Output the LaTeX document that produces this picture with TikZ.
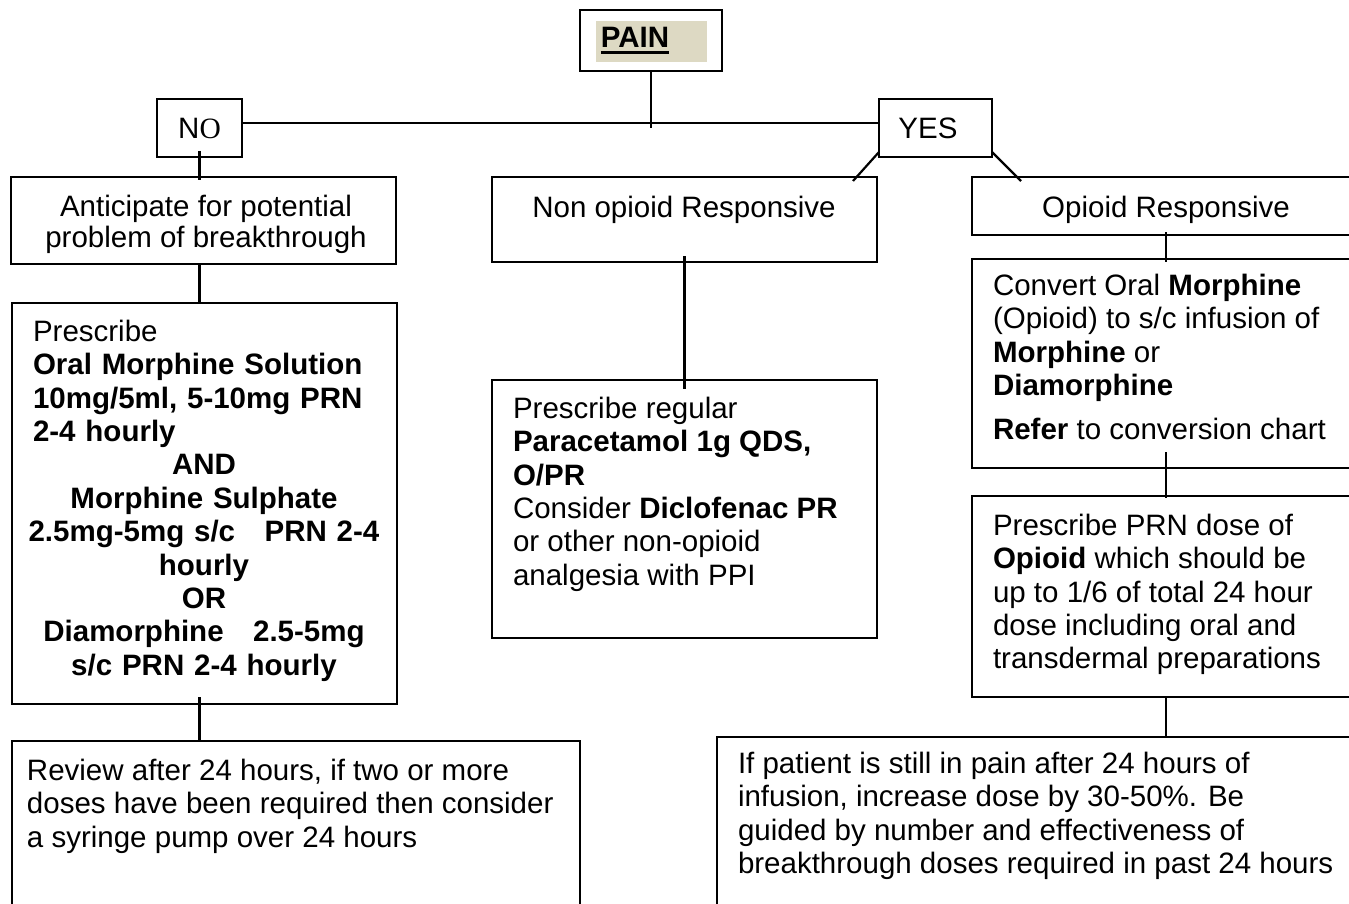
\documentclass[tikz,border=0pt]{standalone}
\usepackage{fontspec}
\setmainfont{Liberation Sans}
\newfontfamily\serifO{Liberation Serif}
\definecolor{painbg}{HTML}{DDD9C3}
\begin{document}
\begin{tikzpicture}[x=1pt,y=-1pt,
  box/.style={draw, line width=2.2pt, anchor=north west, inner sep=0pt, outer sep=0pt},
  txt/.style={inner sep=0pt, outer sep=0pt, font=\fontsize{29.5}{33.4}\selectfont},
  link/.style={line width=2.2pt}]
\useasboundingbox (0,0) rectangle (1349,904);
\clip (0,0) rectangle (1349,904);
\fill[white] (0,0) rectangle (1349,904);

% top
\node[box, minimum width=142pt, minimum height=61pt] (pain) at (580,10) {};
\fill[painbg] (596,21) rectangle (707,62);
\node[txt, font=\fontsize{29.5}{33.4}\selectfont\bfseries] (paintxt) at (635,37) {PAIN};
\draw[line width=3.2pt] ([yshift=-5.5pt]paintxt.base west) -- ([yshift=-5.5pt]paintxt.base east);

\node[box, minimum width=85pt, minimum height=58pt] (no) at (157,99) {};
\node[txt] (notxt) at (no.center) {N{\serifO O}};
\node[box, minimum width=113pt, minimum height=58pt] (yes) at (879,99) {};
\node[txt] (yestxt) at (928,128) {YES};

% second row
\node[box, minimum width=385pt, minimum height=87pt] (antic) at (11,177) {};
\node[txt, anchor=north, align=center, font=\fontsize{29.5}{31}\selectfont] (antictxt) at (206,195) {Anticipate for potential\\problem of breakthrough};
\node[box, minimum width=385pt, minimum height=85pt] (nonop) at (492,177) {};
\node[txt, anchor=north] (nonoptxt) at (684,196) {Non opioid Responsive};
\node[box, minimum width=400pt, minimum height=58pt] (opresp) at (972,177) {};
\node[txt, anchor=north] (oprespttxt) at (1166,196) {Opioid Responsive};

% left prescription
\node[box, minimum width=385pt, minimum height=401pt] (presc1) at (12,303) {};
\node[txt, anchor=north, text width=360pt, align=center] (presc1txt) at (204,320) {%
\makebox[360pt][l]{\hspace{9pt}Prescribe}\\
\makebox[360pt][l]{\hspace{9pt}\textbf{Oral Morphine Solution}}\\
\makebox[360pt][l]{\hspace{9pt}\textbf{10mg/5ml, 5-10mg PRN}}\\
\makebox[360pt][l]{\hspace{9pt}\textbf{2-4 hourly}}\\
\textbf{AND}\\
\textbf{Morphine Sulphate}\\
\textbf{2.5mg-5mg s/c\ \ \ PRN 2-4}\\
\textbf{hourly}\\
\textbf{OR}\\
\textbf{Diamorphine\ \ \ 2.5-5mg}\\
\textbf{s/c PRN 2-4 hourly}};

% middle prescription
\node[box, minimum width=385pt, minimum height=258pt] (mid) at (492,380) {};
\node[txt, anchor=north west, align=left] (midtxt) at (513,397) {Prescribe regular\\
\textbf{Paracetamol 1g QDS,}\\
\textbf{O/PR}\\
Consider \textbf{Diclofenac PR}\\
or other non-opioid\\
analgesia with PPI};

% right column
\node[box, minimum width=400pt, minimum height=209pt] (conv) at (972,259) {};
\node[txt, anchor=north west, align=left] (convtxt) at (993,274) {Convert Oral \textbf{Morphine}\\
(Opioid) to s/c infusion of\\
\textbf{Morphine} or\\
\textbf{Diamorphine}\\[11pt]
\textbf{Refer} to conversion chart};
\node[box, minimum width=400pt, minimum height=201pt] (prn) at (972,496) {};
\node[txt, anchor=north west, align=left] (prntxt) at (993,514) {Prescribe PRN dose of\\
\textbf{Opioid} which should be\\
up to 1/6 of total 24 hour\\
dose including oral and\\
transdermal preparations};

% bottom
\node[box, minimum width=568pt, minimum height=200pt] (botleft) at (12,741) {};
\node[txt, anchor=north west, align=left] (botlefttxt) at (27,759) {Review after 24 hours, if two or more\\
doses have been required then consider\\
a syringe pump over 24 hours};
\node[box, minimum width=660pt, minimum height=200pt] (botright) at (717,737) {};
\node[txt, anchor=north west, align=left] (botrighttxt) at (738,752) {If patient is still in pain after 24 hours of\\
infusion, increase dose by 30-50\%. Be\\
guided by number and effectiveness of\\
breakthrough doses required in past 24 hours};

% connectors
\coordinate (hmid) at (651,128);
\draw[link] (pain.south) -- (hmid);
\draw[link] ([yshift=5pt]no.east) -- ([yshift=5pt]yes.west);
\draw[link] ([yshift=6pt]no.south) -- ([yshift=-3pt]no.south |- antic.north);
\draw[link] (no.south |- antic.south) -- (no.south |- presc1.north);
\draw[link] ([yshift=7pt]no.south |- presc1.south) -- (no.south |- botleft.north);

\coordinate (yl) at (853,181);
\coordinate (yr) at (1021,181);
\draw[link] ([yshift=5pt]yes.south west) -- (yl);
\draw[link] ([yshift=5pt]yes.south east) -- (yr);

\draw[link] ([yshift=6pt]nonop.south) -- ([yshift=-9pt]mid.north);

\coordinate (rc) at (1166,0);
\draw[link] ([yshift=3pt]rc |- opresp.south) -- ([yshift=-3pt]rc |- conv.north);
\draw[link] ([yshift=16pt]rc |- conv.south) -- ([yshift=-2pt]rc |- prn.north);
\draw[link] (rc |- prn.south) -- (rc |- botright.north);
\end{tikzpicture}
\end{document}
